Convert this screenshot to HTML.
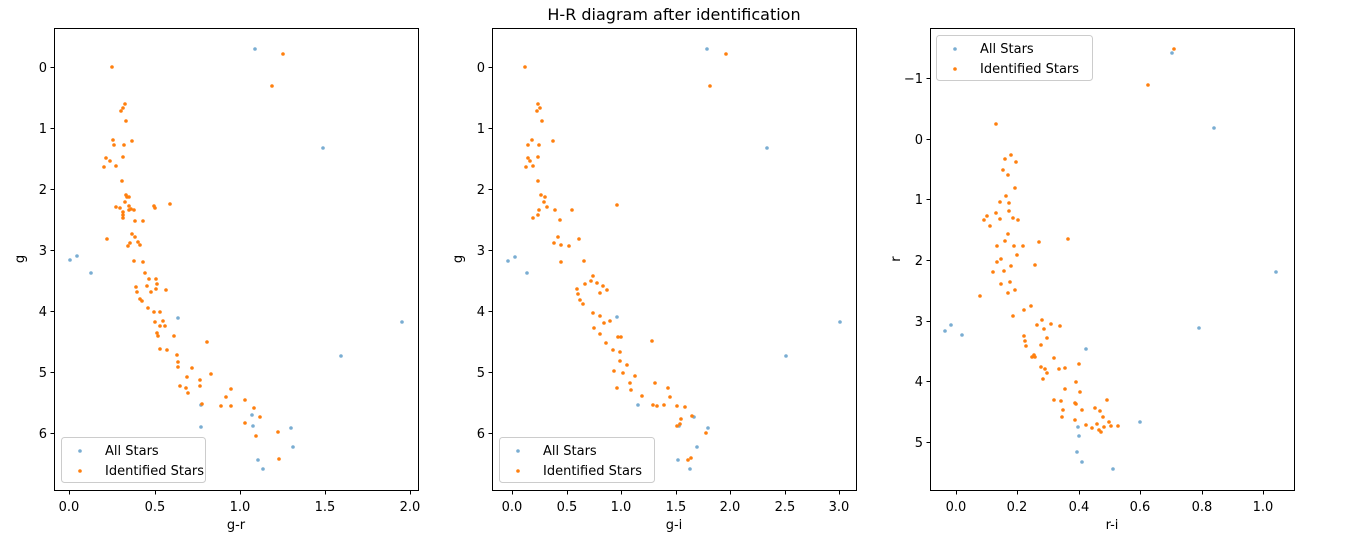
<!DOCTYPE html>
<html><head><meta charset="utf-8"><style>
body{margin:0;background:#fff}
svg{display:block;font-family:"DejaVu Sans","Liberation Sans",sans-serif}
</style></head><body>
<svg id="s" width="1346" height="542" viewBox="0 0 1346 542" xmlns="http://www.w3.org/2000/svg">
<rect width="1346" height="542" fill="#fff"/>
<text x="674" y="20" font-size="16" text-anchor="middle" fill="#000">H-R diagram after identification</text>
<g id="g"></g>
</svg>
<script>
const NS="http://www.w3.org/2000/svg",G=document.getElementById('g');
function el(t,a,txt){const e=document.createElementNS(NS,t);for(const k in a)e.setAttribute(k,a[k]);if(txt!=null)e.textContent=txt;G.appendChild(e);return e;}
function panel(x0,x1,y0,y1,xt,yt,xl,yl,blue,orange,leg){
 el('rect',{x:x0+.5,y:y0+.5,width:x1-x0,height:y1-y0,fill:'none',stroke:'#000','stroke-width':1});
 xt.forEach(([p,l])=>{el('line',{x1:p+.5,x2:p+.5,y1:y1+.5,y2:y1+4.5,stroke:'#000'});el('text',{x:p,y:y1+21,'font-size':13,'text-anchor':'middle'},l);});
 yt.forEach(([p,l])=>{el('line',{x1:x0-3.5,x2:x0+.5,y1:p+.5,y2:p+.5,stroke:'#000'});el('text',{x:x0-7,y:p+5,'font-size':13,'text-anchor':'end'},l);});
 el('text',{x:(x0+x1)/2,y:y1+39,'font-size':13,'text-anchor':'middle'},xl);
 const t=el('text',{x:x0-30,y:(y0+y1)/2,'font-size':13,'text-anchor':'middle',transform:`rotate(-90 ${x0-30} ${(y0+y1)/2})`},yl);
 blue.forEach(([x,y])=>el('circle',{cx:x,cy:y,r:1.8,fill:'#1f77b4','fill-opacity':0.6}));
 orange.forEach(([x,y])=>el('circle',{cx:x,cy:y,r:1.8,fill:'#ff7f0e'}));
 const [lx,ly,lw]=leg;
 el('rect',{x:lx+.5,y:ly+.5,width:lw,height:45,rx:3,fill:'#fff','fill-opacity':0.8,stroke:'#ccc'});
 el('circle',{cx:lx+19,cy:ly+14,r:1.8,fill:'#1f77b4','fill-opacity':0.6});
 el('circle',{cx:lx+19,cy:ly+34,r:1.8,fill:'#ff7f0e'});
 el('text',{x:lx+44,y:ly+18,'font-size':13},'All Stars');
 el('text',{x:lx+44,y:ly+38,'font-size':13},'Identified Stars');
}
const yt1=[[67,'0'],[128,'1'],[189,'2'],[250,'3'],[311,'4'],[372,'5'],[433,'6']];
panel(54,418,28,490,[[69,'0.0'],[155,'0.5'],[240,'1.0'],[325,'1.5'],[410,'2.0']],yt1,'g-r','g',
[[255,49],[323,148],[70,260],[77,256],[91,273],[178,318],[402,322],[341,356],[201,427],[252,415],[291,428],[293,447],[258,460],[263,469],[253,426],[201,405]],
[[112,67],[283,54],[272,86],[125,104],[123,108],[121,111],[126,121],[113,140],[132,141],[114,145],[124,145],[123,157],[106,158],[110,161],[104,167],[116,166],[122,181],[126,195],[127,197],[129,197],[125,202],[120,208],[129,206],[123,212],[131,209],[129,210],[123,215],[116,207],[134,210],[123,218],[135,221],[154,206],[143,221],[155,208],[170,204],[132,234],[135,237],[130,243],[138,242],[107,239],[128,246],[140,245],[134,261],[143,262],[136,287],[137,292],[140,299],[142,301],[145,273],[149,279],[147,286],[156,279],[157,284],[156,289],[151,292],[166,290],[148,308],[154,312],[160,312],[155,322],[163,321],[160,326],[157,333],[158,336],[165,326],[160,349],[167,350],[174,336],[177,355],[178,362],[178,367],[192,368],[180,386],[187,377],[186,388],[207,342],[211,374],[200,380],[200,386],[188,393],[202,404],[231,389],[226,397],[221,406],[231,406],[245,400],[254,408],[245,423],[260,417],[278,432],[279,459],[256,436]],
[61,437,144]);
panel(492,856,28,490,[[512,'0.0'],[567,'0.5'],[621,'1.0'],[676,'1.5'],[730,'2.0'],[785,'2.5'],[839,'3.0']],yt1,'g-i','g',
[[707,49],[767,148],[508,261],[515,257],[527,273],[617,317],[840,322],[786,356],[638,405],[678,460],[690,469],[697,447],[708,428],[694,417],[679,426]],
[[525,67],[726,54],[710,86],[538,104],[540,108],[537,111],[542,121],[532,140],[553,141],[528,145],[539,145],[538,157],[528,158],[530,161],[526,167],[533,166],[538,181],[541,195],[545,197],[544,202],[547,207],[539,210],[555,210],[533,218],[560,220],[538,215],[572,210],[617,205],[558,237],[561,245],[554,243],[569,246],[579,239],[561,262],[584,261],[577,289],[578,294],[580,300],[583,304],[593,276],[597,283],[591,281],[603,286],[585,284],[600,293],[607,290],[610,321],[593,313],[600,316],[604,323],[594,328],[600,334],[618,337],[621,337],[613,350],[620,352],[606,343],[620,361],[627,365],[614,371],[623,373],[617,388],[635,376],[630,383],[631,390],[652,341],[642,396],[655,383],[653,405],[657,406],[668,388],[670,397],[664,405],[677,406],[685,407],[680,424],[692,416],[677,426],[706,433],[688,460],[691,458],[681,419]],
[499,437,155]);
panel(930,1294,28,490,[[956,'0.0'],[1017,'0.2'],[1079,'0.4'],[1140,'0.6'],[1202,'0.8'],[1263,'1.0']],
[[78,'−1'],[139,'0'],[199,'1'],[260,'2'],[321,'3'],[381,'4'],[442,'5']],'r-i','r',
[[1172,53],[1214,128],[1276,272],[1199,328],[945,331],[951,325],[962,335],[1086,349],[1140,422],[1078,427],[1079,436],[1077,452],[1082,462],[1113,469]],
[[1174,49],[1148,85],[996,124],[1005,159],[1011,155],[1016,162],[1003,170],[1008,175],[1015,188],[1006,196],[1000,202],[1009,203],[996,213],[1009,211],[1013,218],[1000,219],[1018,220],[1008,234],[987,216],[984,220],[990,226],[1005,241],[1014,246],[1023,246],[997,246],[1039,242],[1068,239],[1017,255],[1001,259],[1035,265],[997,262],[1011,266],[1004,271],[993,272],[1010,282],[1001,284],[1015,290],[1008,293],[980,296],[1031,306],[1024,310],[1013,316],[1051,324],[1037,325],[1042,320],[1044,329],[1047,338],[1060,326],[1024,336],[1025,341],[1026,346],[1041,345],[1034,355],[1035,357],[1041,367],[1045,369],[1054,358],[1032,357],[1059,369],[1079,364],[1047,373],[1043,379],[1065,368],[1076,382],[1080,392],[1065,389],[1061,401],[1054,400],[1075,403],[1063,410],[1082,410],[1075,420],[1062,417],[1095,408],[1100,411],[1103,417],[1109,422],[1097,424],[1104,427],[1099,430],[1111,426],[1118,426],[1086,425],[1092,428],[1101,432],[1107,400],[1076,404]],
[936,35,156]);
</script>
</body></html>
